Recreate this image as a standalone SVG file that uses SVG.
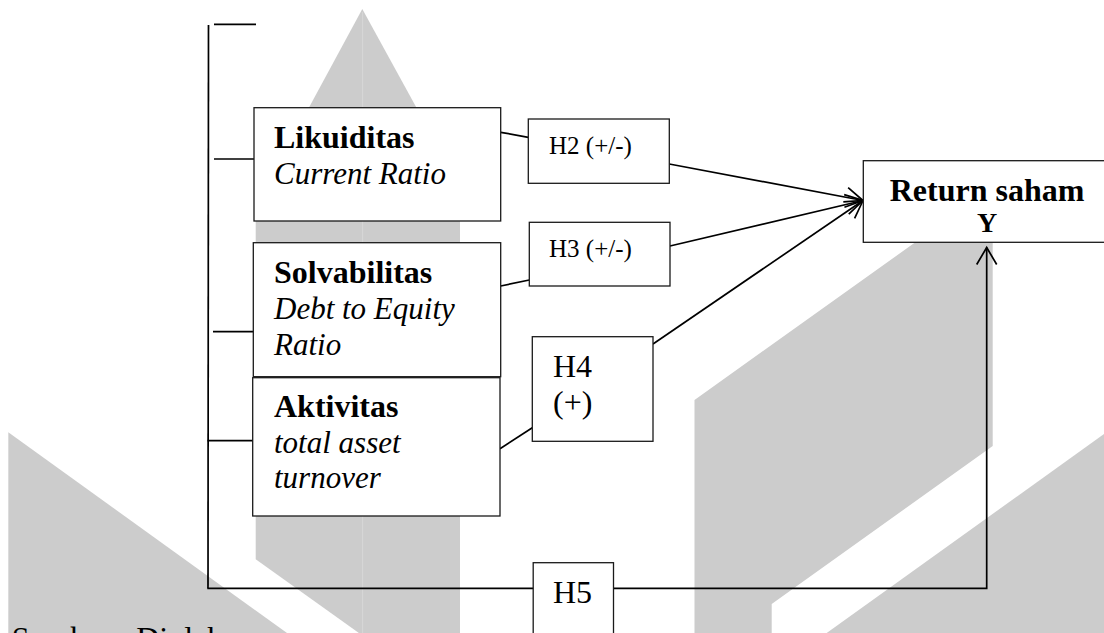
<svg xmlns="http://www.w3.org/2000/svg" width="1104" height="633" viewBox="0 0 1104 633">
<style>
.wm{fill:#cccccc;stroke:none}
.box{fill:#ffffff;stroke:#1a1a1a;stroke-width:1.3}
.ln{fill:none;stroke:#000000;stroke-width:1.7}
.t{font-family:"Liberation Serif","Times New Roman",serif;fill:#000000}
.b{font-weight:bold;font-size:32px}
.i{font-style:italic;font-size:31px}
.h{font-size:25px}
.hb{font-size:32px}
</style>
<defs>
<marker id="arr" markerUnits="userSpaceOnUse" markerWidth="40" markerHeight="40" refX="0" refY="0" viewBox="-20 -20 40 40" orient="auto" overflow="visible">
<path d="M-17,-10 L0,0 L-17,10" fill="none" stroke="#000" stroke-width="1.7"/>
</marker>
</defs>
<g id="watermark">
<polygon class="wm" points="362.3,9 460,187 460,633 358.9,633 255.7,559.3 255.7,206"/>
<line x1="362.6" y1="12" x2="362.6" y2="633" stroke="#d8d8d8" stroke-width="1"/>
<polygon class="wm" points="8.3,432.3 287,633 8.3,633"/>
<polygon class="wm" points="694.5,400 992.7,187 992.7,446 771.7,604 771.7,633 694.5,633"/>
<polygon class="wm" points="1104,434 826.7,633 1104,633"/>
</g>
<g id="connectors">
<line class="ln" x1="208.5" y1="25" x2="208" y2="588.3"/>
<line class="ln" x1="214" y1="24.3" x2="256" y2="24.3"/>
<line class="ln" x1="214" y1="159" x2="256" y2="159"/>
<line class="ln" x1="213" y1="331.7" x2="256" y2="331.7"/>
<line class="ln" x1="207.5" y1="440.7" x2="253" y2="440.7"/>
<line class="ln" x1="500.7" y1="132.3" x2="528.3" y2="137.3"/>
<line class="ln" x1="500.7" y1="286" x2="529.3" y2="280"/>
<line class="ln" x1="500" y1="448.7" x2="532.3" y2="427.7"/>
<line class="ln" x1="669.3" y1="164" x2="863" y2="200.5" marker-end="url(#arr)"/>
<line class="ln" x1="670" y1="246" x2="863" y2="200.5" marker-end="url(#arr)"/>
<line class="ln" x1="653" y1="344" x2="863" y2="200.5" marker-end="url(#arr)"/>
<polyline class="ln" points="207.3,588.3 986.7,588.3 986.7,247.5" marker-end="url(#arr)"/>
</g>
<g id="likuiditas">
<rect class="box" x="254" y="107.7" width="246.7" height="113.3"/>
<text class="t b" x="274" y="147.7">Likuiditas</text>
<text class="t i" x="274" y="184">Current Ratio</text>
</g>
<g id="solvabilitas">
<rect class="box" x="253.3" y="242.7" width="247.4" height="134"/>
<text class="t b" x="274" y="283.3">Solvabilitas</text>
<text class="t i" x="274" y="319">Debt to Equity</text>
<text class="t i" x="274" y="355">Ratio</text>
</g>
<g id="aktivitas">
<rect class="box" x="252.7" y="377.7" width="247.3" height="138.3"/>
<text class="t b" x="274" y="417.3">Aktivitas</text>
<text class="t i" x="274" y="452.7">total asset</text>
<text class="t i" x="274" y="488.3">turnover</text>
</g>
<g id="h2">
<rect class="box" x="528.3" y="119" width="141" height="64.3"/>
<text class="t h" x="549" y="154.3">H2 (+/-)</text>
</g>
<g id="h3">
<rect class="box" x="529.3" y="222.3" width="140.7" height="63.7"/>
<text class="t h" x="549" y="256.7">H3 (+/-)</text>
</g>
<g id="h4">
<rect class="box" x="532.3" y="336.7" width="120.7" height="104.6"/>
<text class="t hb" x="553" y="376.7">H4</text>
<text class="t hb" x="553" y="412.7">(+)</text>
</g>
<g id="h5">
<rect class="box" x="533.2" y="562.7" width="80.3" height="90"/>
<text class="t hb" x="553" y="602.7">H5</text>
</g>
<g id="return-saham">
<rect class="box" x="863.3" y="160.7" width="250" height="81.6"/>
<text class="t b" x="987" y="200.7" text-anchor="middle">Return saham</text>
<text class="t" x="987" y="231.7" text-anchor="middle" font-weight="bold" font-size="28">Y</text>
</g>
<g id="source">
<text class="t" x="11.7" y="649" font-size="32">Sumber : Diolah</text>
</g>
</svg>
